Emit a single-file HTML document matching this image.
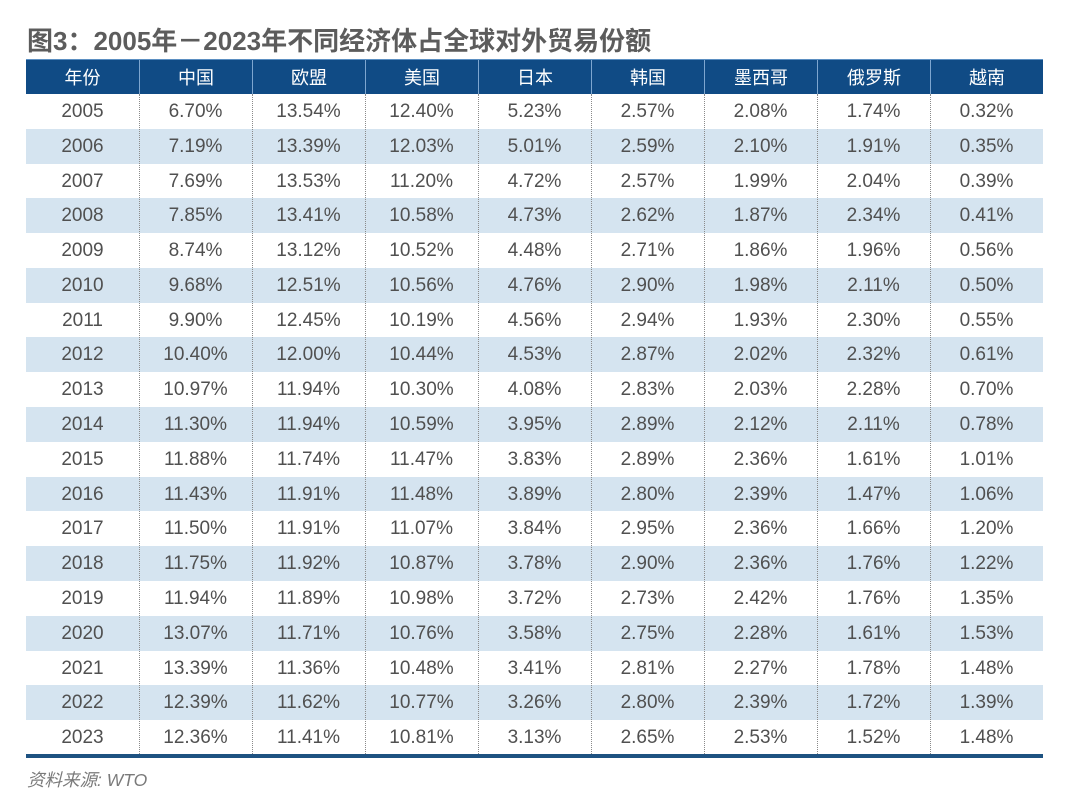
<!DOCTYPE html>
<html>
<head>
<meta charset="utf-8">
<style>
  html,body{margin:0;padding:0;background:#fff;}
  body{width:1080px;height:808px;position:relative;overflow:hidden;
       font-family:"Liberation Sans","Noto Sans CJK SC",sans-serif;}
  .title{position:absolute;left:27px;top:26px;font-size:26px;font-weight:bold;color:#5c5c5c;
         line-height:30px;white-space:nowrap;
         font-family:"Liberation Sans","Noto Sans CJK SC",sans-serif;}
  .hdr{position:absolute;left:26px;top:59px;width:1017px;height:35px;background:#104b85;
       display:flex;border-top:1px solid #5b8fc2;box-sizing:border-box;}
  .hdr div{width:113px;height:34px;line-height:34px;text-align:center;color:#fff;font-size:18px;
           font-family:"Noto Sans CJK SC",sans-serif;box-sizing:border-box;}
  .hdr div+div{border-left:1px solid #7ea6cf;}
  .body{position:absolute;left:26px;top:94px;width:1017px;}
  .row{height:34.79px;display:flex;}
  .row.alt{background:#d5e4f0;}
  .row div{width:113px;text-align:center;line-height:36px;font-size:19px;color:#505050;}
  .vl{position:absolute;top:94px;height:660px;width:0;border-left:1px dotted #8a8a8a;}
  .bottom{position:absolute;left:26px;top:754px;width:1017px;height:4px;background:#1d5281;}
  .src{position:absolute;left:27px;top:770px;font-size:17.5px;color:#7a7a7a;font-style:italic;
       line-height:20px;font-family:"Liberation Sans","Noto Sans CJK SC",sans-serif;}
</style>
</head>
<body>
<div class="title">图3：2005年－2023年不同经济体占全球对外贸易份额</div>
<div class="hdr">
  <div>年份</div><div>中国</div><div>欧盟</div><div>美国</div><div>日本</div><div>韩国</div><div>墨西哥</div><div>俄罗斯</div><div>越南</div>
</div>
<div class="body">
  <div class="row"><div>2005</div><div>6.70%</div><div>13.54%</div><div>12.40%</div><div>5.23%</div><div>2.57%</div><div>2.08%</div><div>1.74%</div><div>0.32%</div></div>
  <div class="row alt"><div>2006</div><div>7.19%</div><div>13.39%</div><div>12.03%</div><div>5.01%</div><div>2.59%</div><div>2.10%</div><div>1.91%</div><div>0.35%</div></div>
  <div class="row"><div>2007</div><div>7.69%</div><div>13.53%</div><div>11.20%</div><div>4.72%</div><div>2.57%</div><div>1.99%</div><div>2.04%</div><div>0.39%</div></div>
  <div class="row alt"><div>2008</div><div>7.85%</div><div>13.41%</div><div>10.58%</div><div>4.73%</div><div>2.62%</div><div>1.87%</div><div>2.34%</div><div>0.41%</div></div>
  <div class="row"><div>2009</div><div>8.74%</div><div>13.12%</div><div>10.52%</div><div>4.48%</div><div>2.71%</div><div>1.86%</div><div>1.96%</div><div>0.56%</div></div>
  <div class="row alt"><div>2010</div><div>9.68%</div><div>12.51%</div><div>10.56%</div><div>4.76%</div><div>2.90%</div><div>1.98%</div><div>2.11%</div><div>0.50%</div></div>
  <div class="row"><div>2011</div><div>9.90%</div><div>12.45%</div><div>10.19%</div><div>4.56%</div><div>2.94%</div><div>1.93%</div><div>2.30%</div><div>0.55%</div></div>
  <div class="row alt"><div>2012</div><div>10.40%</div><div>12.00%</div><div>10.44%</div><div>4.53%</div><div>2.87%</div><div>2.02%</div><div>2.32%</div><div>0.61%</div></div>
  <div class="row"><div>2013</div><div>10.97%</div><div>11.94%</div><div>10.30%</div><div>4.08%</div><div>2.83%</div><div>2.03%</div><div>2.28%</div><div>0.70%</div></div>
  <div class="row alt"><div>2014</div><div>11.30%</div><div>11.94%</div><div>10.59%</div><div>3.95%</div><div>2.89%</div><div>2.12%</div><div>2.11%</div><div>0.78%</div></div>
  <div class="row"><div>2015</div><div>11.88%</div><div>11.74%</div><div>11.47%</div><div>3.83%</div><div>2.89%</div><div>2.36%</div><div>1.61%</div><div>1.01%</div></div>
  <div class="row alt"><div>2016</div><div>11.43%</div><div>11.91%</div><div>11.48%</div><div>3.89%</div><div>2.80%</div><div>2.39%</div><div>1.47%</div><div>1.06%</div></div>
  <div class="row"><div>2017</div><div>11.50%</div><div>11.91%</div><div>11.07%</div><div>3.84%</div><div>2.95%</div><div>2.36%</div><div>1.66%</div><div>1.20%</div></div>
  <div class="row alt"><div>2018</div><div>11.75%</div><div>11.92%</div><div>10.87%</div><div>3.78%</div><div>2.90%</div><div>2.36%</div><div>1.76%</div><div>1.22%</div></div>
  <div class="row"><div>2019</div><div>11.94%</div><div>11.89%</div><div>10.98%</div><div>3.72%</div><div>2.73%</div><div>2.42%</div><div>1.76%</div><div>1.35%</div></div>
  <div class="row alt"><div>2020</div><div>13.07%</div><div>11.71%</div><div>10.76%</div><div>3.58%</div><div>2.75%</div><div>2.28%</div><div>1.61%</div><div>1.53%</div></div>
  <div class="row"><div>2021</div><div>13.39%</div><div>11.36%</div><div>10.48%</div><div>3.41%</div><div>2.81%</div><div>2.27%</div><div>1.78%</div><div>1.48%</div></div>
  <div class="row alt"><div>2022</div><div>12.39%</div><div>11.62%</div><div>10.77%</div><div>3.26%</div><div>2.80%</div><div>2.39%</div><div>1.72%</div><div>1.39%</div></div>
  <div class="row"><div>2023</div><div>12.36%</div><div>11.41%</div><div>10.81%</div><div>3.13%</div><div>2.65%</div><div>2.53%</div><div>1.52%</div><div>1.48%</div></div>
</div>
<div class="vl" style="left:139px"></div>
<div class="vl" style="left:252px"></div>
<div class="vl" style="left:365px"></div>
<div class="vl" style="left:478px"></div>
<div class="vl" style="left:591px"></div>
<div class="vl" style="left:704px"></div>
<div class="vl" style="left:817px"></div>
<div class="vl" style="left:930px"></div>
<div class="bottom"></div>
<div class="src">资料来源: WTO</div>
</body>
</html>
